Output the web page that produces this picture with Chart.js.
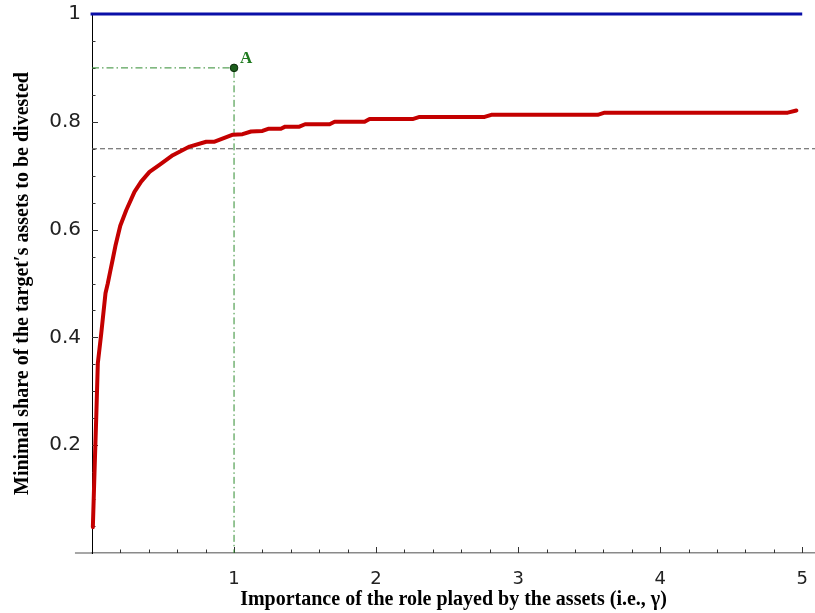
<!DOCTYPE html>
<html><head><meta charset="utf-8">
<script src="https://cdn.jsdelivr.net/npm/chart.js@4.4.1/dist/chart.umd.min.js"></script>
<style>html,body{margin:0;padding:0;background:#fff;}canvas{display:block;}</style>
</head><body>
<canvas id="c" width="815" height="613"></canvas>
<script>
// ---- data ----
const gammaValues = [0.006, 0.018, 0.030, 0.041, 0.065, 0.095, 0.111, 0.128, 0.146, 0.165,
  0.199, 0.241, 0.299, 0.346, 0.405, 0.475, 0.569, 0.687, 0.804, 0.863,
  0.992, 1.06, 1.12, 1.2, 1.24, 1.33, 1.36, 1.46, 1.5, 1.673,
  1.708, 1.919, 1.954, 2.257, 2.306, 2.764, 2.811, 3.56, 3.609, 4.898, 4.959];
const minimalShare = [0.048, 0.153, 0.253, 0.352, 0.407, 0.482, 0.500, 0.522, 0.545, 0.570,
  0.607, 0.636, 0.670, 0.689, 0.707, 0.720, 0.738, 0.754, 0.763, 0.763,
  0.776, 0.777, 0.782, 0.783, 0.787, 0.787, 0.791, 0.791, 0.7955, 0.7955,
  0.800, 0.800, 0.805, 0.805, 0.809, 0.809, 0.813, 0.813, 0.817, 0.817, 0.821];
const upperBoundX = [-0.01, 5];
const upperBoundY = [1, 1];
const benchmarkX = [0, 5.09];
const benchmarkY = [0.75, 0.75];
const guideX = [0, 1, 1];
const guideY = [0.9, 0.9, 0];
const pointAX = [1];
const pointAY = [0.9];
const pointALabel = 'A';
const xTickValues = [1, 2, 3, 4, 5];
const yTickValues = [0.2, 0.4, 0.6, 0.8, 1];
const xTitle = 'Importance of the role played by the assets (i.e., \u03b3)';
const yTitle = 'Minimal share of the target\u2032s assets to be divested';

const pts = (xs, ys) => xs.map((v, i) => ({x: v, y: ys[i]}));
const noPad = s => { s.paddingLeft = 0; s.paddingRight = 0; s.paddingTop = 0; s.paddingBottom = 0; };

const axisDecor = {
  id: 'axisDecor',
  beforeDatasetsDraw(chart) {
    const {ctx, scales: {x, y}, chartArea: a} = chart;
    const y0 = y.getPixelForValue(0);
    const x0 = x.getPixelForValue(0);
    ctx.save();
    ctx.strokeStyle = '#8a8a8a'; ctx.lineWidth = 1.5;
    ctx.beginPath(); ctx.moveTo(x.getPixelForValue(-0.12), y0); ctx.lineTo(a.left, y0); ctx.stroke();
    ctx.strokeStyle = '#333'; ctx.lineWidth = 1;
    for (let i = 1; i <= 25; i++) {
      const px = Math.round(x.getPixelForValue(i * 0.2)) + 0.5;
      const len = (i % 5 === 0) ? 6 : 3.5;
      ctx.beginPath(); ctx.moveTo(px, y0); ctx.lineTo(px, y0 - len); ctx.stroke();
    }
    for (let i = 1; i <= 20; i++) {
      const py = Math.round(y.getPixelForValue(i * 0.05)) + 0.5;
      const len = (i % 4 === 0) ? 6 : 3.5;
      ctx.beginPath(); ctx.moveTo(x0, py); ctx.lineTo(x0 + len, py); ctx.stroke();
    }
    ctx.restore();
  },
  afterDatasetsDraw(chart) {
    const {ctx, scales: {x, y}} = chart;
    const px = x.getPixelForValue(pointAX[0]);
    const py = y.getPixelForValue(pointAY[0]);
    ctx.save();
    ctx.fillStyle = '#1f7a1f';
    ctx.font = 'bold 17px "Liberation Serif", serif';
    ctx.textAlign = 'left'; ctx.textBaseline = 'alphabetic';
    ctx.fillText(pointALabel, px + 6, py - 5);
    ctx.restore();
  }
};

new Chart(document.getElementById('c'), {
  type: 'scatter',
  data: {
    datasets: [
      {data: pts(gammaValues, minimalShare), showLine: true, borderColor: '#c40000', borderWidth: 4,
       pointRadius: 0, borderJoinStyle: 'round', borderCapStyle: 'round', clip: false},
      {data: pts(pointAX, pointAY), pointRadius: 3.8, pointBackgroundColor: '#1d5e1d', pointBorderColor: '#0b2b0b', pointBorderWidth: 1},
      {data: pts(upperBoundX, upperBoundY), showLine: true, borderColor: '#0a0fa8', borderWidth: 3, pointRadius: 0, clip: false},
      {data: pts(guideX, guideY), showLine: true, borderColor: '#2e8b2e', borderWidth: 1, borderDash: [7, 3, 1.5, 3], pointRadius: 0},
      {data: pts(benchmarkX, benchmarkY), showLine: true, borderColor: '#555', borderWidth: 1.2, borderDash: [5, 3], pointRadius: 0}
    ]
  },
  options: {
    responsive: false, animation: false, devicePixelRatio: 1,
    layout: {autoPadding: false, padding: {top: 14, right: 0, bottom: 0, left: 0}},
    plugins: {legend: {display: false}, tooltip: {enabled: false}},
    scales: {
      x: {
        type: 'linear', position: 'bottom', min: 0, max: 5.09,
        afterFit: s => { s.height = 60; noPad(s); },
        afterBuildTicks: s => { s.ticks = xTickValues.map(v => ({value: v})); },
        grid: {display: false, drawTicks: false, tickLength: 0},
        border: {display: true, color: '#8a8a8a', width: 1.5},
        ticks: {padding: 16, color: '#222', font: {family: '"DejaVu Sans"', size: 18}, callback: v => String(v), maxRotation: 0, autoSkip: false},
        title: {display: true, text: xTitle, color: '#000', padding: {top: 0, bottom: 1},
                font: {family: '"Liberation Serif", serif', size: 20, weight: 'bold'}}
      },
      y: {
        type: 'linear', position: 'left', min: 0, max: 1,
        afterFit: s => { s.width = 92; noPad(s); },
        afterBuildTicks: s => { s.ticks = yTickValues.map(v => ({value: v})); },
        grid: {display: false, drawTicks: false, tickLength: 0},
        border: {display: true, color: '#000', width: 1},
        ticks: {padding: 11, color: '#222', font: {family: '"DejaVu Sans"', size: 20}, callback: v => String(v), autoSkip: false},
        title: {display: true, text: yTitle, color: '#000', padding: {top: 11, bottom: 0},
                font: {family: '"Liberation Serif", serif', size: 20, weight: 'bold'}}
      }
    }
  },
  plugins: [axisDecor]
});
</script>
</body></html>
